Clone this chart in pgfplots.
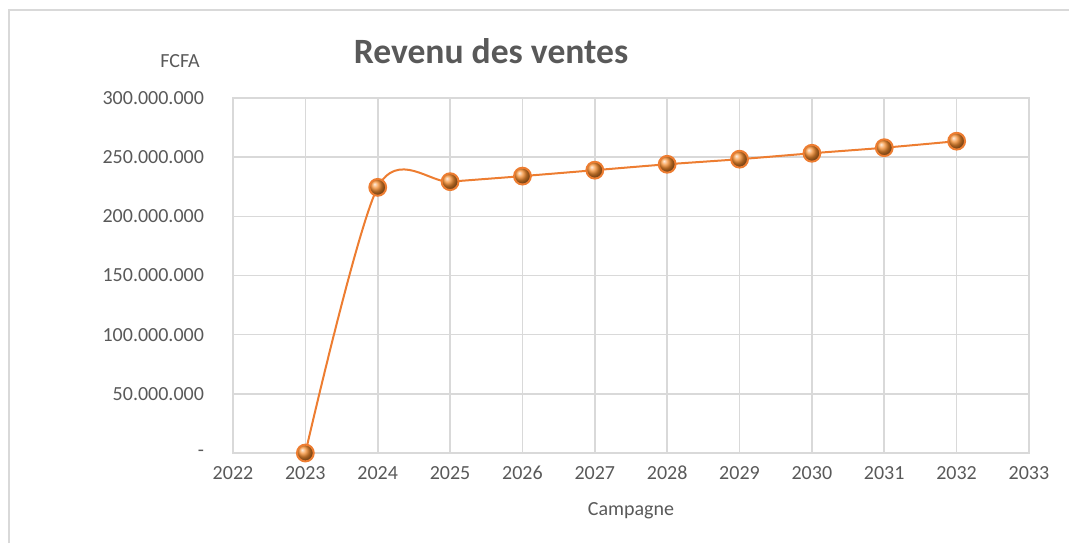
\documentclass[border=0pt]{standalone}
\usepackage{pgfplots}
\pgfplotsset{compat=1.18}
\usepackage{fontspec}
\setmainfont{Carlito}
\definecolor{linecol}{HTML}{ED7D31}
\definecolor{ballcol}{HTML}{F58C2E}
\definecolor{gridcol}{HTML}{D9D9D9}
\definecolor{txtcol}{HTML}{595959}

\begin{document}
\begin{tikzpicture}
% page = 1069 x 543 px at 0.5pt per px
\useasboundingbox (0,0) rectangle (534.5pt,271.5pt);
\draw[gridcol, line width=1pt] (4.5pt,0) -- (4.5pt,266.5pt) -- (534.5pt,266.5pt);

\begin{axis}[
    at={(116.5pt,45pt)}, anchor=south west,
    scale only axis, width=398pt, height=177.5pt,
    xmin=2022, xmax=2033, ymin=0, ymax=300000000,
    xtick={2022,...,2033},
    ytick={0,50000000,100000000,150000000,200000000,250000000,300000000},
    yticklabels={-,50.000.000,100.000.000,150.000.000,200.000.000,250.000.000,300.000.000},
    scaled y ticks=false,
    /pgf/number format/1000 sep={},
    /pgf/number format/assume math mode=true,
    grid=major, grid style={gridcol, line width=0.8pt},
    axis line style={gridcol, line width=0.8pt},
    major tick length=0pt,
    tick label style={font=\fontsize{10}{12}\selectfont, text=txtcol},
    yticklabel style={xshift=-11pt},
    xticklabel style={yshift=-3pt},
    clip=false,
]
\addplot[linecol, line width=1pt, smooth, mark=ball, mark size=4.2pt,
         mark options={ball color=ballcol}]
    coordinates {(2023,0)(2024,224500000)(2025,229300000)(2026,234000000)
                 (2027,239000000)(2028,244000000)(2029,248300000)
                 (2030,253300000)(2031,258000000)(2032,263500000)};
\end{axis}

\node[font=\bfseries\fontsize{17.8}{20}\selectfont, text=txtcol] at (245.5pt,246pt) {Revenu des ventes};
\node[font=\fontsize{10}{12}\selectfont, text=txtcol] at (90pt,241pt) {FCFA};
\node[font=\fontsize{10}{12}\selectfont, text=txtcol] at (315.5pt,16pt) {Campagne};
\end{tikzpicture}
\end{document}
